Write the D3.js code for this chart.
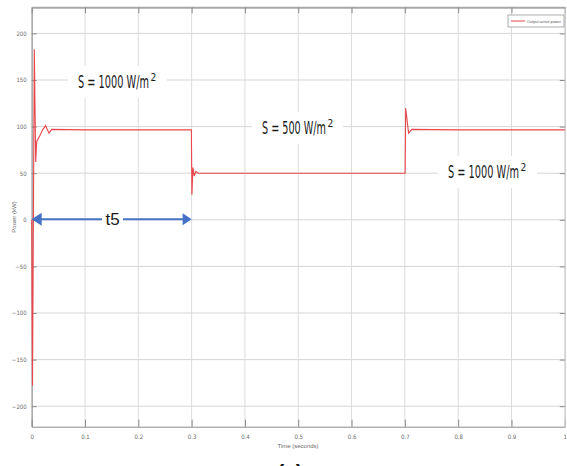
<!DOCTYPE html>
<html>
<head>
<meta charset="utf-8">
<script src="https://cdn.jsdelivr.net/npm/d3@7"></script>
<style>
  body { margin: 0; background: #fff; }
  svg { display: block; }
</style>
</head>
<body>
<svg id="chart" width="567" height="466"></svg>
<script>
// Output active power (kW) against time (s)
const time = [0, 0.0015, 0.0049, 0.0075, 0.0094, 0.015, 0.02, 0.026, 0.0325, 0.0375,
  0.1, 0.2, 0.2995, 0.3005, 0.3025, 0.305, 0.308, 0.312, 0.4, 0.5, 0.6,
  0.7005, 0.7015, 0.707, 0.713, 0.8, 0.9, 1];
const power = [0, -178, 183, 62, 84, 90, 96, 101, 93, 97,
  96.5, 96.5, 96.5, 27, 56, 47, 52, 50, 50, 50, 50,
  50, 120, 93, 97, 96.5, 96.5, 96.5];

const xTicks = [0, 0.1, 0.2, 0.3, 0.4, 0.5, 0.6, 0.7, 0.8, 0.9, 1];
const yTicks = [-200, -150, -100, -50, 0, 50, 100, 150, 200];

const labels = ["S = 1000 W/m", "S = 500 W/m", "S = 1000 W/m"];
const legendText = "Output active power";

const svg = d3.select("#chart");

const x = d3.scaleLinear().domain([0, 1]).range([31.7, 564.8]);
const y = d3.scaleLinear().domain([-222, 228]).range([426.7, 7.3]);

const [x0, x1] = x.range();
const [y0, y1] = y.range();

// grid
svg.append("g")
  .selectAll("line")
  .data(xTicks)
  .join("line")
  .attr("x1", (d) => x(d))
  .attr("x2", (d) => x(d))
  .attr("y1", y1)
  .attr("y2", y0)
  .attr("stroke", "#dcdcdc")
  .attr("stroke-width", 1);

svg.append("g")
  .selectAll("line")
  .data(yTicks)
  .join("line")
  .attr("x1", x0)
  .attr("x2", x1)
  .attr("y1", (d) => y(d))
  .attr("y2", (d) => y(d))
  .attr("stroke", "#d6d6d6")
  .attr("stroke-width", 1);

// axes with inward ticks
const tickStyle = (g) => {
  g.select(".domain").attr("stroke", "#8a8a8a");
  g.selectAll(".tick line").attr("stroke", "#8a8a8a");
  g.selectAll(".tick text")
    .attr("fill", "#6a6a6a")
    .style("font-family", "'Liberation Sans Narrow', 'DejaVu Sans Condensed', sans-serif")
    .style("font-size", "6px");
};

svg.append("g")
  .attr("transform", `translate(0,${y0})`)
  .call(d3.axisBottom(x).tickValues(xTicks).tickFormat(d3.format("")).tickSize(-7).tickPadding(8).tickSizeOuter(0))
  .call(tickStyle);

svg.append("g")
  .attr("transform", `translate(${x0},0)`)
  .call(d3.axisLeft(y).tickValues(yTicks).tickSize(-5).tickPadding(5).tickSizeOuter(0))
  .call(tickStyle);

svg.append("g")
  .attr("transform", `translate(0,${y1})`)
  .call(d3.axisTop(x).tickValues(xTicks).tickFormat("").tickSize(-6).tickSizeOuter(0))
  .call(tickStyle)
  .select(".domain").attr("stroke", "#a8a8a8").attr("stroke-width", 2);

svg.append("g")
  .attr("transform", `translate(${x1},0)`)
  .call(d3.axisRight(y).tickValues(yTicks).tickFormat("").tickSize(-5).tickSizeOuter(0))
  .call(tickStyle)
  .select(".domain").attr("stroke", "#c8c8c8");

// axis titles
svg.append("text")
  .attr("x", 298)
  .attr("y", 448)
  .attr("text-anchor", "middle")
  .attr("fill", "#6a6a6a")
  .style("font-family", "'Liberation Sans Narrow', sans-serif")
  .style("font-size", "6px")
  .text("Time (seconds)");

svg.append("text")
  .attr("transform", "translate(16,217) rotate(-90)")
  .attr("text-anchor", "middle")
  .attr("fill", "#6a6a6a")
  .style("font-family", "'Liberation Sans Narrow', sans-serif")
  .style("font-size", "6px")
  .text("Power (kW)");

// signal
const pts = time.map((t, i) => [t, power[i]]);
svg.append("path")
  .datum(pts)
  .attr("fill", "none")
  .attr("stroke", "#e8464a")
  .attr("stroke-width", 1.1)
  .attr("d", d3.line().x((d) => x(d[0])).y((d) => y(d[1])));

// irradiance labels with white backing
const labelPos = [
  { x: 78, y: 88, bx: 68, bw: 99 },
  { x: 262, y: 134, bx: 252, bw: 91 },
  { x: 448, y: 178, bx: 438, bw: 99 }
];
const labelW = [71, 64, 71];

labels.forEach((s, i) => {
  const p = labelPos[i];
  svg.append("rect")
    .attr("x", p.bx).attr("y", p.y - 22)
    .attr("width", p.bw).attr("height", 32)
    .attr("fill", "#fff");
  const t = svg.append("text")
    .attr("fill", "#1a1a1a")
    .style("font-family", "'Liberation Sans Narrow', 'DejaVu Sans Condensed', sans-serif")
    .style("font-size", "17px")
    .text(s);
  // squeeze horizontally to the condensed look of the source
  const sx = labelW[i] / t.node().getComputedTextLength();
  t.attr("transform", `translate(${p.x},${p.y}) scale(${sx},1)`);
  svg.append("text")
    .attr("x", p.x + labelW[i] + 1.5)
    .attr("y", p.y - 7)
    .attr("fill", "#1a1a1a")
    .style("font-family", "'Liberation Sans Narrow', 'DejaVu Sans Condensed', sans-serif")
    .style("font-size", "10px")
    .text("2");
});

// t5 double arrow
const blue = "#4472c4";
const ay = y(0) - 0.5;
const ax0 = x(0);
const ax1 = x(0.3);
svg.append("rect").attr("x", 102).attr("y", ay - 10).attr("width", 21).attr("height", 20).attr("fill", "#fff");
svg.append("line")
  .attr("x1", ax0 + 8).attr("x2", 102).attr("y1", ay).attr("y2", ay)
  .attr("stroke", blue).attr("stroke-width", 2);
svg.append("line")
  .attr("x1", 123).attr("x2", ax1 - 8).attr("y1", ay).attr("y2", ay)
  .attr("stroke", blue).attr("stroke-width", 2);
svg.append("path")
  .attr("d", `M${ax0},${ay} L${ax0 + 10},${ay - 6.5} L${ax0 + 10},${ay + 6.5} Z`)
  .attr("fill", blue);
svg.append("path")
  .attr("d", `M${ax1},${ay} L${ax1 - 9},${ay - 6} L${ax1 - 9},${ay + 6} Z`)
  .attr("fill", blue);
svg.append("text")
  .attr("x", 112.5)
  .attr("y", ay + 6)
  .attr("text-anchor", "middle")
  .attr("fill", "#1a1a1a")
  .style("font-family", "'Liberation Sans Narrow', sans-serif")
  .style("font-size", "17px")
  .text("t5");

// legend
const legend = svg.append("g").attr("transform", "translate(508,15)");
legend.append("rect")
  .attr("width", 56).attr("height", 12)
  .attr("fill", "#fff").attr("stroke", "#9a9a9a").attr("stroke-width", 0.8);
legend.append("line")
  .attr("x1", 3).attr("x2", 17).attr("y1", 6).attr("y2", 6)
  .attr("stroke", "#e8464a").attr("stroke-width", 1);
legend.append("text")
  .attr("x", 19).attr("y", 7.6)
  .attr("fill", "#555")
  .attr("textLength", 34)
  .attr("lengthAdjust", "spacingAndGlyphs")
  .style("font-family", "'Liberation Sans Narrow', sans-serif")
  .style("font-size", "4.4px")
  .text(legendText);

// caption, cut by the bottom edge as in the source figure
svg.append("text")
  .attr("x", 290)
  .attr("y", 479)
  .attr("text-anchor", "middle")
  .attr("fill", "#111")
  .style("font-family", "'Liberation Sans', Arial, sans-serif")
  .style("font-weight", "bold")
  .style("font-size", "21px")
  .text("(a)");
</script>
</body>
</html>
